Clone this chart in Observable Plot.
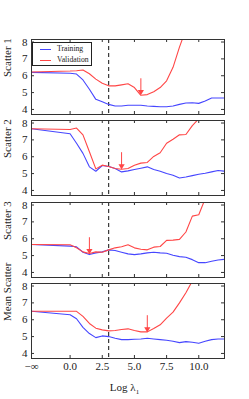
<!DOCTYPE html>
<html><head><meta charset="utf-8">
<script src="https://cdn.jsdelivr.net/npm/d3@7"></script>
<script src="https://cdn.jsdelivr.net/npm/@observablehq/plot@0.6"></script>
<style>
body{margin:0;background:#fff;}
#c{position:relative;width:249px;height:399px;overflow:hidden;font-family:'Liberation Serif',serif;}
#c svg{position:absolute;left:0;}
#legend{position:absolute;left:32px;top:42px;width:58px;height:22px;border:1px solid #222;background:#fff;font-size:7.7px;color:#222;}
#legend .row{position:absolute;left:0;height:10px;line-height:10px;}
#legend .sw{position:absolute;left:7px;top:5px;width:11px;height:0;border-top:1px solid;}
#legend .lb{position:absolute;left:24px;top:0;white-space:nowrap;}
#xlabel{position:absolute;left:0;width:249px;top:381px;text-align:center;font-size:11px;color:#222;}
#xlabel span{display:inline-block;margin-left:6px;}
</style></head><body><div id="c"></div>
<script>
// data
const xs = [-3, 0, 0.5, 1, 1.5, 2, 2.5, 3, 3.5, 4, 4.5, 5, 5.5, 6, 6.5, 7, 7.5, 8, 8.5, 9, 9.5, 10, 10.5, 11, 11.5, 12];
const panelNames = ["Scatter 1", "Scatter 2", "Scatter 3", "Mean Scatter"];
const train1 = [6.2, 6.15, 6.1, 5.75, 5.2, 4.6, 4.45, 4.3, 4.2, 4.2, 4.25, 4.25, 4.25, 4.2, 4.18, 4.16, 4.16, 4.2, 4.3, 4.38, 4.4, 4.36, 4.5, 4.68, 4.68, 4.68];
const valid1 = [6.22, 6.28, 6.3, 6.34, 6.12, 5.8, 5.55, 5.4, 5.4, 5.46, 5.52, 5.3, 4.84, 4.88, 5.05, 5.3, 5.7, 6.5, 7.7, 8.75];
const train2 = [7.66, 7.36, 6.8, 6.2, 5.4, 5.14, 5.48, 5.42, 5.3, 5.1, 5.16, 5.24, 5.32, 5.4, 5.24, 5.14, 5.0, 4.9, 4.74, 4.8, 4.88, 4.96, 5.02, 5.1, 5.18, 5.14];
const valid2 = [7.66, 7.62, 7.7, 7.3, 6.3, 5.28, 5.5, 5.42, 5.3, 5.26, 5.3, 5.5, 5.62, 5.66, 6.02, 6.24, 6.8, 7.04, 7.3, 7.32, 7.85, 8.25];
const train3 = [5.66, 5.56, 5.52, 5.2, 5.06, 5.16, 5.22, 5.34, 5.3, 5.2, 5.1, 5.06, 5.1, 5.16, 5.2, 5.16, 5.14, 5.02, 4.94, 4.9, 4.76, 4.58, 4.58, 4.66, 4.74, 4.78];
const valid3 = [5.66, 5.64, 5.46, 5.22, 5.12, 5.22, 5.2, 5.34, 5.46, 5.52, 5.64, 5.46, 5.38, 5.34, 5.5, 5.54, 5.9, 5.92, 5.96, 6.4, 7.34, 7.42, 8.38];
const train4 = [6.5, 6.3, 6.06, 5.55, 5.18, 4.94, 5.04, 5.0, 4.9, 4.82, 4.82, 4.84, 4.86, 4.9, 4.86, 4.82, 4.78, 4.72, 4.64, 4.7, 4.66, 4.6, 4.72, 4.82, 4.86, 4.86];
const valid4 = [6.5, 6.5, 6.5, 6.2, 5.78, 5.5, 5.4, 5.34, 5.36, 5.42, 5.46, 5.36, 5.28, 5.28, 5.48, 5.7, 6.1, 6.45, 7.0, 7.6, 8.3];
const arrowX = [5.5, 4.0, 1.5, 6.0];
const arrowTail = [5.82, 6.24, 6.06, 6.24];
const arrowTip = [4.9, 5.3, 5.14, 5.3];
const xTicks = [-3, 0, 2.5, 5, 7.5, 10];
const xTickLabels = ["\u2212\u221e", "0.0", "2.5", "5.0", "7.5", "10.0"];
const yTicks = [4, 5, 6, 7, 8];
const cutoff = 3;
const legendNames = ["Training", "Validation"];

const trains = [train1, train2, train3, train4];
const valids = [valid1, valid2, valid3, valid4];
const blue = "rgb(70,70,255)";
const red = "rgb(255,70,70)";
const tops = [39, 120, 202, 283];
const frameH = 75;
const c = document.getElementById("c");

for (let p = 0; p < 4; p++) {
  const last = p === 3;
  const mt = 5, mb = last ? 41 : 5;
  const tr = trains[p].map((y, i) => ({x: xs[i], y}));
  const va = valids[p].map((y, i) => ({x: xs[i], y}));
  const innerTicks = xTicks.slice(1);
  const marks = [
    Plot.ruleX([cutoff], {stroke: "#111", strokeWidth: 1, strokeDasharray: "4,3"}),
    Plot.line(tr, {x: "x", y: "y", stroke: blue, strokeWidth: 1.1, clip: true}),
    Plot.line(va, {x: "x", y: "y", stroke: red, strokeWidth: 1.1, clip: true}),
    Plot.ruleX([{x: arrowX[p], y1: arrowTail[p], y2: arrowTip[p] + 0.15}], {x: "x", y1: "y1", y2: "y2", stroke: red, strokeWidth: 1}),
    Plot.dot([{x: arrowX[p], y: arrowTip[p]}], {x: "x", y: "y", symbol: "triangle", rotate: 180, r: 2.3, fill: red, stroke: "none", dy: -2.5}),
    Plot.tickX(innerTicks, {x: d => d, insetTop: frameH - 3, stroke: "#333"}),
    Plot.tickX(innerTicks, {x: d => d, insetBottom: frameH - 3, stroke: "#333"}),
    Plot.tickY(yTicks, {y: d => d, insetRight: 249 - 31 - 25 - 3, stroke: "#333"}),
    Plot.tickY(yTicks, {y: d => d, insetLeft: 249 - 31 - 25 - 3, stroke: "#333"}),
    Plot.axisY(yTicks, {tickSize: 0, tickPadding: 4, label: null, fontSize: 11, fill: "#222"}),
    Plot.text([panelNames[p]], {frameAnchor: "left", dx: -24, rotate: -90, text: d => d, fontSize: 11, fill: "#222"}),
    Plot.frame({stroke: "#333", strokeWidth: 1})
  ];
  if (last) {
    marks.push(Plot.axisX(xTicks, {tickSize: 0, tickPadding: 4, label: null, fontSize: 11, fill: "#222",
      tickFormat: d => xTickLabels[xTicks.indexOf(d)]}));
  }
  const svg = Plot.plot({
    width: 249,
    height: mt + frameH + mb,
    marginTop: mt, marginBottom: mb, marginLeft: 31, marginRight: 25,
    x: {domain: [-3, 12], axis: null},
    y: {domain: [3.7, 8.15], axis: null},
    style: {fontFamily: "'Liberation Serif', serif", fontSize: "11px", background: "transparent", overflow: "visible"},
    marks
  });
  svg.style.top = (tops[p] - mt) + "px";
  c.appendChild(svg);
}

// legend
const lg = document.createElement("div");
lg.id = "legend";
const cols = [blue, red];
legendNames.forEach((n, i) => {
  const row = document.createElement("div");
  row.className = "row";
  row.style.top = (1 + i * 10.5) + "px";
  row.style.width = "58px";
  row.innerHTML = `<div class="sw" style="border-color:${cols[i]}"></div><div class="lb">${n}</div>`;
  lg.appendChild(row);
});
c.appendChild(lg);

const xl = document.createElement("div");
xl.id = "xlabel";
xl.innerHTML = "Log \u03bb<sub style='font-size:7px'>1</sub>";
c.appendChild(xl);
</script>
</body></html>
